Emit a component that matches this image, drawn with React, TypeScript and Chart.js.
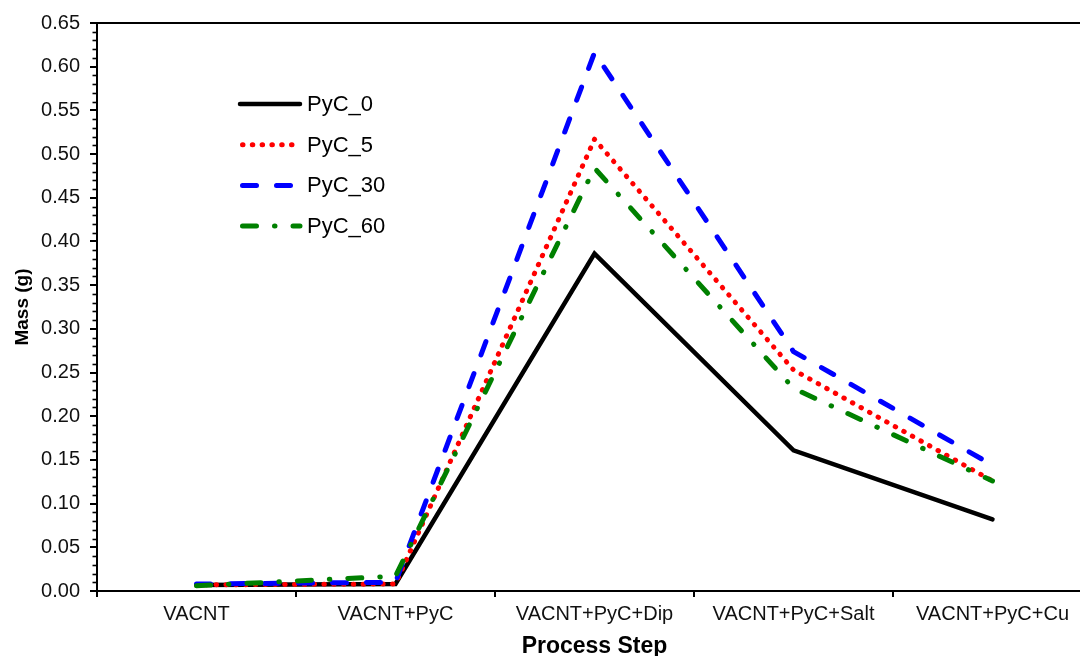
import React, { useEffect, useRef } from "react";
import { Chart, registerables } from "chart.js";

Chart.register(...registerables);

const categories = ["VACNT", "VACNT+PyC", "VACNT+PyC+Dip", "VACNT+PyC+Salt", "VACNT+PyC+Cu"];
const seriesNames = ["PyC_0", "PyC_5", "PyC_30", "PyC_60"];
const pyc0 = [0.007, 0.008, 0.386, 0.161, 0.082];
const pyc5 = [0.007, 0.008, 0.517, 0.253, 0.126];
const pyc30 = [0.008, 0.010, 0.616, 0.274, 0.144];
const pyc60 = [0.006, 0.017, 0.484, 0.232, 0.126];
const yTicks = [0, 0.05, 0.1, 0.15, 0.2, 0.25, 0.3, 0.35, 0.4, 0.45, 0.5, 0.55, 0.6, 0.65];

const FONT = "'Liberation Sans', Arial, Helvetica, sans-serif";

const decorPlugin = {
  id: "decor",
  afterDraw(chart: any) {
    const { ctx, chartArea, scales } = chart;
    const y = scales.y;
    ctx.save();
    // top frame line
    ctx.strokeStyle = "#000";
    ctx.lineWidth = 2;
    ctx.beginPath();
    ctx.moveTo(chartArea.left - 1, chartArea.top);
    ctx.lineTo(chartArea.right, chartArea.top);
    ctx.stroke();
    // minor ticks on y axis
    ctx.lineWidth = 1.6;
    for (let k = 0; k <= 65; k++) {
      if (k % 5 === 0) continue;
      const py = Math.round(y.getPixelForValue(k / 100)) + 0.5;
      ctx.beginPath();
      ctx.moveTo(chartArea.left - 4.5, py);
      ctx.lineTo(chartArea.left, py);
      ctx.stroke();
    }
    // legend
    const legendX0 = 240;
    const legendX1 = 300;
    const legendTop = 104;
    const rowGap = 40.7;
    chart.data.datasets.forEach((ds: any, i: number) => {
      const ly = legendTop + i * rowGap;
      ctx.save();
      ctx.strokeStyle = ds.borderColor;
      ctx.lineWidth = ds.borderWidth;
      ctx.lineCap = ds.borderCapStyle || "butt";
      ctx.setLineDash(ds.borderDash || []);
      ctx.beginPath();
      ctx.moveTo(legendX0 + (ds.borderDash && ds.borderDash.length ? 2.5 : 0), ly);
      ctx.lineTo(legendX1, ly);
      ctx.stroke();
      ctx.restore();
      ctx.fillStyle = "#000";
      ctx.font = `22px ${FONT}`;
      ctx.textBaseline = "middle";
      ctx.textAlign = "left";
      ctx.fillText(ds.label, 307, ly + 1);
    });
    ctx.restore();
  },
};

export default function App() {
  const canvasRef = useRef<HTMLCanvasElement | null>(null);

  useEffect(() => {
    if (!canvasRef.current) return;
    const chart = new Chart(canvasRef.current, {
      type: "line",
      data: {
        labels: categories,
        datasets: [
          {
            label: seriesNames[0],
            data: pyc0,
            borderColor: "#000000",
            borderWidth: 4.5,
            borderCapStyle: "round",
            borderJoinStyle: "miter",
            pointRadius: 0,
            tension: 0,
            order: 3,
          },
          {
            label: seriesNames[1],
            data: pyc5,
            borderColor: "#ff0000",
            borderWidth: 5,
            borderDash: [0.5, 9.3],
            borderCapStyle: "round",
            borderJoinStyle: "round",
            pointRadius: 0,
            tension: 0,
            order: 2,
          },
          {
            label: seriesNames[2],
            data: pyc30,
            borderColor: "#0000ff",
            borderWidth: 5,
            borderDash: [14, 20],
            borderCapStyle: "round",
            borderJoinStyle: "round",
            pointRadius: 0,
            tension: 0,
            order: 1,
          },
          {
            label: seriesNames[3],
            data: pyc60,
            borderColor: "#008000",
            borderWidth: 5,
            borderDash: [14, 18, 0.5, 18],
            borderCapStyle: "round",
            borderJoinStyle: "round",
            pointRadius: 0,
            tension: 0,
            order: 0,
          },
        ],
      },
      options: {
        responsive: false,
        animation: false,
        events: [],
        layout: { padding: { top: 23, right: 8, left: 0, bottom: 0 } },
        plugins: {
          legend: { display: false },
          tooltip: { enabled: false },
        },
        scales: {
          x: {
            type: "category",
            offset: true,
            grid: {
              offset: true,
              drawOnChartArea: false,
              drawTicks: true,
              tickLength: 6,
              color: "#000",
              lineWidth: 2,
            },
            border: { color: "#000", width: 2 },
            ticks: {
              color: "#111",
              font: { family: FONT, size: 20 },
              padding: 5,
              maxRotation: 0,
              autoSkip: false,
            },
            title: {
              display: true,
              text: "Process Step",
              color: "#000",
              font: { family: FONT, size: 23, weight: "bold" },
              padding: { top: 0, bottom: -4 },
            },
            afterFit: (s: any) => {
              s.height = 65;
            },
          },
          y: {
            min: 0,
            max: 0.65,
            afterBuildTicks: (s: any) => {
              s.ticks = yTicks.map((v) => ({ value: v }));
            },
            grid: {
              drawOnChartArea: false,
              drawTicks: true,
              tickLength: 7,
              color: "#000",
              lineWidth: 2,
            },
            border: { color: "#000", width: 2 },
            ticks: {
              color: "#111",
              font: { family: FONT, size: 20 },
              padding: 10,
              callback: (v: any) => Number(v).toFixed(2),
            },
            title: {
              display: true,
              text: "Mass (g)",
              color: "#000",
              font: { family: FONT, size: 19, weight: "bold" },
              padding: { top: 11, bottom: 0 },
            },
            afterFit: (s: any) => {
              s.width = 97;
            },
          },
        },
      },
      plugins: [decorPlugin],
    } as any);
    return () => chart.destroy();
  }, []);

  return (
    <div
      style={{
        position: "absolute",
        left: 0,
        top: 0,
        width: 1080,
        height: 656,
        overflow: "hidden",
        background: "#fff",
      }}
    >
      <canvas ref={canvasRef} width={1100} height={656} style={{ display: "block", width: 1100, height: 656 }} />
    </div>
  );
}
